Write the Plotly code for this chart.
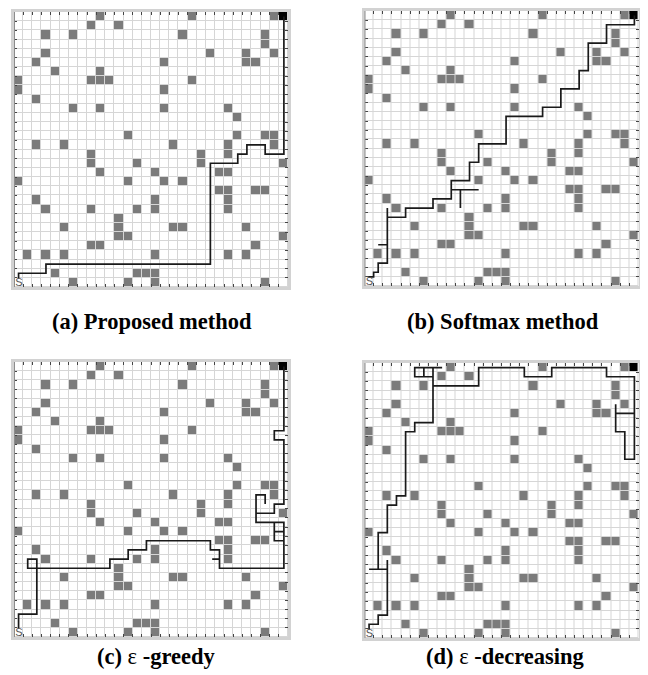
import plotly.graph_objects as go

N = 30
# obstacle columns for each grid row (row 0 = top)
obstacle_cols_by_row = [
    [9, 19, 28], [8, 11], [3, 6, 18, 27], [27], [3, 21, 25, 28],
    [2, 16, 25, 26], [4, 9], [0, 8, 9, 10, 19], [0, 16], [2],
    [6, 9, 16, 23], [24], [], [12, 24, 27, 28], [2, 5, 17, 23, 28],
    [8, 20, 23], [8, 13, 20, 29], [9, 15, 22, 23], [0, 12, 16, 18], [22, 23, 26, 27],
    [2, 15, 23], [3, 8, 13, 15, 23], [11], [5, 11, 17, 18, 25], [11, 12, 29],
    [8, 9, 26], [1, 3, 5, 15, 23, 25], [], [4, 13, 14, 15], [6, 12, 15, 27],
]
goal_cell = (29, 0)
start_cell = (0, 29)

path_a_x = [0.5, 0.5, 3.5, 3.5, 21.5, 21.5, 24.5, 24.5, 25.5, 25.5, 27.5, 27.5, 29.55, 29.55]
path_a_y = [29.1, 28.5, 28.5, 27.5, 27.5, 16.5, 16.5, 15.5, 15.5, 14.5, 14.5, 15.5, 15.5, 0.5]

path_b_x = [0.4, 1.0, 1.0, 1.5, 1.5, 2.5, 2.5, 1.5, 2.5, 2.5, 2.5, 4.5, 4.5, 7.5, 7.5, 9.5, 9.5,
            12.5, 10.5, 10.5, 10.5, 9.5, 9.5, 11.5, 11.5, 12.5, 12.5, 15.5, 15.5, 19.5, 19.5,
            21.5, 21.5, 23.5, 23.5, 24.5, 24.5, 26.5, 26.5, 29.55, 29.55]
path_b_y = [29.0, 29.0, 28.5, 28.5, 27.5, 27.5, 25.5, 25.5, 25.5, 21.5, 22.5, 22.5, 21.5, 21.5, 20.5, 20.5, 19.5,
            19.5, 19.5, 21.5, 19.5, 19.5, 18.5, 18.5, 16.5, 16.5, 14.5, 14.5, 11.5, 11.5, 10.5,
            10.5, 8.5, 8.5, 6.5, 6.5, 3.5, 3.5, 1.5, 1.5, 0.5]

path_c_x = [0.5, 0.5, 2.5, 2.5, 1.5, 1.5, 10.5, 10.5, 12.5, 12.5, 14.5, 14.5, 21.5, 21.5, 22.5, 22.5,
            21.7, 22.5, 22.5, 29.55, 29.55, 28.5, 28.5, 29.55, 29.55, 28.5, 28.5, 26.5, 26.5, 27.5,
            27.5, 27.5, 26.5, 26.5, 28.5, 28.5, 29.55, 29.55, 28.5, 28.5, 29.55, 29.55]
path_c_y = [29.1, 27.5, 27.5, 21.5, 21.5, 22.5, 22.5, 21.5, 21.5, 20.5, 20.5, 19.5, 19.5, 20.5, 20.5, 21.5,
            21.5, 21.5, 22.5, 22.5, 17.5, 17.5, 19.5, 19.5, 18.5, 18.5, 17.5, 17.5, 14.5, 14.5,
            15.5, 14.5, 14.5, 16.5, 16.5, 15.5, 15.5, 8.5, 8.5, 7.5, 7.5, 0.5]

path_d_x = [0.5, 0.5, 1.5, 1.5, 2.5, 2.5, 2.5, 0.5, 1.5, 1.5, 2.5, 2.5, 3.5, 3.5, 4.5, 4.5, 5.5,
            5.5, 7.5, 7.5, 8.5, 5.5, 5.5, 6.5, 6.5, 6.5, 7.5, 7.5, 12.5, 12.5, 17.5, 17.5, 20.5, 20.5,
            26.5, 26.5, 29.55, 29.55, 28.5, 28.5, 27.5, 27.5, 27.5, 29.55, 29.55]
path_d_y = [29.1, 28.5, 28.5, 27.5, 27.5, 21.5, 22.5, 22.5, 22.5, 18.5, 18.5, 15.5, 15.5, 14.5, 14.5, 7.5, 7.5,
            6.5, 6.5, 0.5, 0.5, 0.5, 1.5, 1.5, 0.5, 1.5, 1.5, 2.5, 2.5, 0.5, 0.5, 1.5, 1.5, 0.5,
            0.5, 1.5, 1.5, 10.5, 10.5, 7.5, 7.5, 4.5, 5.5, 5.5, 1.5]

panel_titles = ["<b>(a) Proposed method</b>", "<b>(b) Softmax method</b>",
                "<b>(c) </b>\u03b5<b> -greedy</b>", "<b>(d) </b>\u03b5<b> -decreasing</b>"]
paths = [(path_a_x, path_a_y), (path_b_x, path_b_y), (path_c_x, path_c_y), (path_d_x, path_d_y)]

# grid values: 0 free, 1 obstacle, 2 goal
z = [[0] * N for _ in range(N)]
for r, cols in enumerate(obstacle_cols_by_row):
    for c in cols:
        z[r][c] = 1
z[goal_cell[1]][goal_cell[0]] = 2
centers = [i + 0.5 for i in range(N)]

OFF = 8  # default page body margin
W, H = 648 - OFF, 675 - OFF
panel_px = [  # x0, x1, y0(top), y1(bottom) in screenshot pixels
    (14, 288, 12, 287),
    (364.5, 638.5, 11, 286),
    (14, 288, 362, 637),
    (364.5, 638.5, 363, 638),
]
label_xy_px = [(152, 321), (503, 321), (156, 656), (505, 656)]

fig = go.Figure()
cs = [[0, "#ffffff"], [0.33, "#ffffff"], [0.34, "#7b7b7b"], [0.66, "#7b7b7b"], [0.67, "#000000"], [1, "#000000"]]
annotations = []
shapes = []
for i in range(4):
    xa = "x" if i == 0 else f"x{i+1}"
    ya = "y" if i == 0 else f"y{i+1}"
    fig.add_trace(go.Heatmap(z=z, x=centers, y=centers, colorscale=cs, zmin=0, zmax=2,
                             showscale=False, xgap=1, ygap=1, xaxis=xa, yaxis=ya, hoverinfo="skip"))
    px, py = paths[i]
    fig.add_trace(go.Scatter(x=px, y=py, mode="lines", line=dict(color="#1a1a1a", width=1.7, simplify=False),
                             xaxis=xa, yaxis=ya, showlegend=False, hoverinfo="skip"))
    fig.add_trace(go.Scatter(x=[start_cell[0] + 0.55], y=[start_cell[1] + 0.55], mode="text", text=["S"],
                             textfont=dict(family="Liberation Sans", size=11, color="#555"),
                             xaxis=xa, yaxis=ya, showlegend=False, hoverinfo="skip"))
    x0, x1, y0, y1 = [v - OFF for v in panel_px[i]]
    ax = dict(range=[0, N], domain=[x0 / W, x1 / W], showgrid=False, zeroline=False,
              showticklabels=False, ticks="inside", ticklen=3, tickwidth=1, tickcolor="#444",
              tickvals=list(range(N + 1)), showline=True, linecolor="#d2d2d2", linewidth=3,
              mirror="ticks", fixedrange=True)
    ay = dict(ax)
    ay.update(range=[N, 0], domain=[1 - y1 / H, 1 - y0 / H])
    ax["anchor"] = ya
    ay["anchor"] = xa
    fig.layout[("xaxis" if i == 0 else f"xaxis{i+1}")] = ax
    fig.layout[("yaxis" if i == 0 else f"yaxis{i+1}")] = ay
    # darker left edge of the frame
    shapes.append(dict(type="line", xref=xa, yref=ya, x0=0, x1=0, y0=0, y1=N,
                       line=dict(color="#8c8c8c", width=2)))
    lx, ly = label_xy_px[i]
    annotations.append(dict(x=(lx - OFF) / W, y=1 - (ly - OFF) / H, xref="paper", yref="paper",
                            text=panel_titles[i], showarrow=False,
                            font=dict(family="Liberation Serif", size=22.5, color="#000"),
                            xanchor="center", yanchor="middle"))

fig.update_layout(width=W, height=H, margin=dict(l=0, r=0, t=0, b=0), plot_bgcolor="#d6d6d6",
                  paper_bgcolor="#ffffff", annotations=annotations, shapes=shapes, showlegend=False)
fig.write_html("out.html")
